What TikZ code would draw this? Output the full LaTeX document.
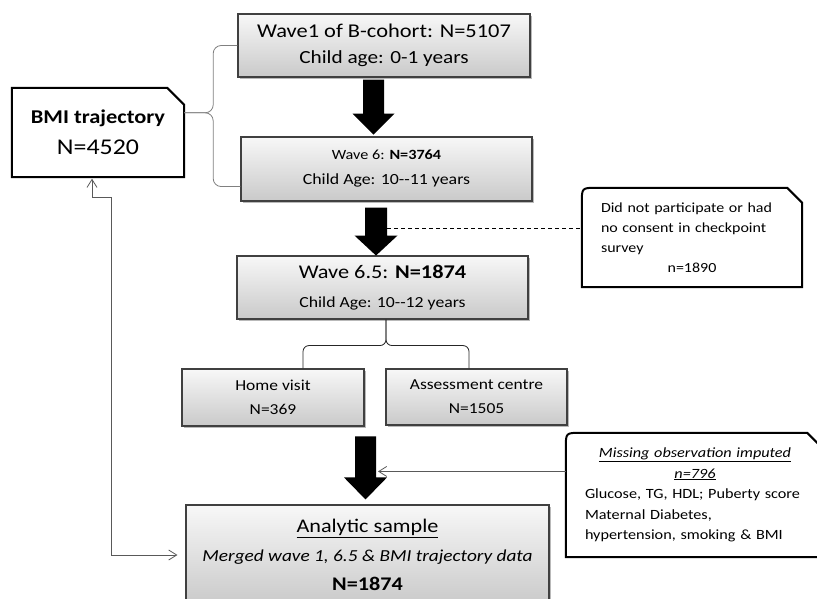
\documentclass[tikz,border=0pt]{standalone}
\usepackage{fontspec}
\setmainfont{Carlito}[FakeStretch=1.15,Ligatures=TeXOff]
\usetikzlibrary{calc,shadows,arrows.meta}
\tikzset{
  gbox/.style={draw=black!75, line width=1.1pt, top color=gray!6, bottom color=gray!42,
    drop shadow={shadow xshift=2pt, shadow yshift=-2pt, opacity=.55}, align=center, inner sep=0pt},
  notebox/.style={draw=black, line width=2pt},
  notetext/.style={inner sep=0pt},
  bigarr/.style={fill=black},
  thinarr/.style={draw=black!65, line width=0.8pt, -{Straight Barb[length=8pt,width=10pt]}},
  backarr/.style={draw=black!65, line width=0.8pt, {Straight Barb[length=8pt,width=10pt]}-{Straight Barb[length=8pt,width=10pt]}},
  brace/.style={draw=black!50, line width=0.8pt, rounded corners=8pt},
  fork/.style={draw=black!85, line width=0.8pt, rounded corners=6pt},
  dashline/.style={draw=black, line width=0.7pt, dash pattern=on 4pt off 3pt}
}
\newcommand\fsz[2]{\fontsize{#1}{#2}\selectfont}

\begin{document}
\begin{tikzpicture}[x=1pt,y=-1pt]
    \useasboundingbox (0,0) rectangle (817,599);
    \clip (0,0) rectangle (817,599);
    % cohort waves
    \node[gbox, minimum width=292, minimum height=63, font=\fsz{19.5}{26}] (wave1) at (384,45.5)
        {Wave1 of B-cohort: N=5107\\\fsz{18.5}{26}Child age: 0-1 years};
    \node[gbox, minimum width=291, minimum height=64, font=\fsz{14.1}{25}] (wave6) at (386.5,169)
        {Wave 6: \textbf{N=3764}\\\fsz{15.5}{25}Child Age: 10--11 years};
    \node[gbox, minimum width=291, minimum height=63, font=\fsz{19.4}{29}] (wave65) at (382.5,287.5)
        {Wave 6.5: \textbf{N=1874}\\\fsz{15.4}{29}Child Age: 10--12 years};
    \node[gbox, minimum width=182, minimum height=57, font=\fsz{15.2}{24}] (home) at (273,397.5)
        {Home visit\\N=369};
    \node[gbox, minimum width=181, minimum height=56, font=\fsz{15.2}{24}] (centre) at (476.5,397)
        {Assessment centre\\N=1505};
    \node[gbox, minimum width=363, minimum height=100, font=\fsz{19.3}{29}] (analytic) at (367.5,555)
        {\underline{Analytic sample}\\\fsz{16.8}{29}\itshape Merged wave 1, 6.5 \& BMI trajectory data\\\textbf{N=1874}};
    % side notes
    \node[notetext, minimum width=172, minimum height=89, align=center, font=\fsz{19.5}{31}] (bmi) at (98,132.5)
        {\textbf{BMI trajectory}\\\fsz{22.5}{31}N=4520};
    \draw[notebox] (bmi.south west) -- (bmi.north west) -- ($(bmi.north east)+(-17,0)$)
        -- ($(bmi.north east)+(0,17)$) -- (bmi.south east) -- cycle;
    \node[notetext, minimum width=220, minimum height=99, text width=182, align=left, font=\fsz{13.9}{20}] (notp) at (692,237.5)
        {Did not participate or had\\no consent in checkpoint\\survey\\\makebox[\linewidth]{n=1890}};
    \draw[notebox] (notp.south west) -- ($(notp.north west)+(0,15)$) .. controls (notp.north west) .. ($(notp.north west)+(15,0)$)
        -- ($(notp.north east)+(-15,0)$) -- ($(notp.north east)+(0,15)$) -- (notp.south east) -- cycle;
    \node[notetext, minimum width=258, minimum height=124, text width=220, align=left, font=\fsz{14.1}{20.5}] (miss) at (695,495)
        {\makebox[\linewidth]{\underline{\textit{Missing observation imputed}}}\\
         \makebox[\linewidth]{\underline{\textit{n=796}}}\\
         Glucose, TG, HDL; Puberty score\\Maternal Diabetes,\\hypertension, smoking \& BMI};
    \draw[notebox] (miss.south west) -- ($(miss.north west)+(0,15)$) .. controls (miss.north west) .. ($(miss.north west)+(15,0)$)
        -- ($(miss.north east)+(-17,0)$) -- ($(miss.north east)+(0,17)$) -- (miss.south east) -- cycle;
    % braces
    \coordinate (btip) at ($(bmi.north east)+(0,25)$);
    \coordinate (bcol) at ($(btip)+(29,0)$);
    \coordinate (bend) at ($(wave6.south west)+(0,-15)$);
    \draw[brace] (btip) -- (bcol) -- (bcol |- wave1.west) -- (wave1.west);
    \draw[brace] (btip) -- (bcol) -- (bcol |- bend) -- (bend);
    \coordinate (sfork) at ($(wave65.south)+(3.5,0)$);
    \coordinate (sbar) at ($(sfork)+(0,26)$);
    \coordinate (hleg) at ($(home.north)+(30,0)$);
    \coordinate (cleg) at ($(centre.north)+(-7.5,0)$);
    \draw[fork] (sfork) -- (sbar) -- (sbar -| hleg) -- (hleg);
    \draw[fork] (sfork) -- (sbar) -- (sbar -| cleg) -- (cleg);
    % block arrows
    \coordinate (a1) at ($(wave1.south)+(-10.5,2)$);
    \fill[bigarr] (a1) ++(-10.5,0) -- ++(21,0) -- ++(0,34) -- ++(10.5,0) -- ++(-21,21) -- ++(-21,-21) -- ++(10.5,0) -- cycle;
    \coordinate (a2) at ($(wave6.south)+(-10.5,6)$);
    \fill[bigarr] (a2) ++(-11,0) -- ++(22,0) -- ++(0,28) -- ++(10.5,0) -- ++(-21.5,20) -- ++(-21.5,-20) -- ++(10.5,0) -- cycle;
    \coordinate (a3) at ($(analytic.north)+(-2,-68)$);
    \fill[bigarr] (a3) ++(-10.5,0) -- ++(21,0) -- ++(0,41) -- ++(11,0) -- ++(-21.5,22) -- ++(-21.5,-22) -- ++(11,0) -- cycle;
    % thin connectors
    \coordinate (a2side) at ($(a2)+(11,21)$);
    \draw[dashline] (a2side) -- (a2side -| notp.west);
    \coordinate (a3side) at ($(a3)+(12.5,35)$);
    \draw[thinarr] (a3side -| miss.west) -- (a3side);
    \draw[backarr, shorten <=1.5pt, shorten >=8pt] ($(bmi.south)+(-6,0)$) -- ++(0,20) -- ++(19,0) |- (analytic.west);
\end{tikzpicture}
\end{document}
